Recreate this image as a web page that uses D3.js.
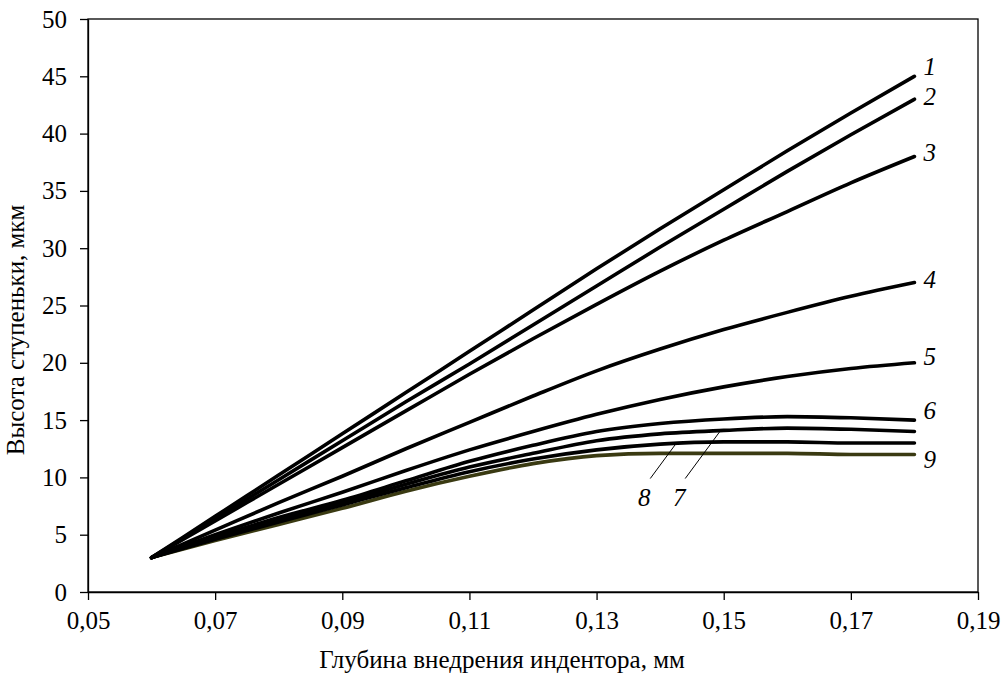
<!DOCTYPE html>
<html>
<head>
<meta charset="utf-8">
<script src="https://d3js.org/d3.v7.min.js"></script>
<style>
  body { margin: 0; background: #fff; }
  svg text { font-family: "Liberation Serif", "Times New Roman", Times, "DejaVu Serif", serif; fill: #000; }
</style>
</head>
<body>
<div id="chart"></div>
<script>
// depth of indentation, mm
var depth = [0.06, 0.07, 0.08, 0.09, 0.10, 0.11, 0.12, 0.13, 0.14, 0.15, 0.16, 0.17, 0.18];

// step height, um (curves 1..9)
var curve1 = [3, 6.6, 10.2, 13.8, 17.4, 21.0, 24.6, 28.2, 31.7, 35.1, 38.5, 41.8, 45];
var curve2 = [3, 6.4, 9.8, 13.2, 16.6, 19.9, 23.3, 26.7, 30.1, 33.4, 36.7, 39.9, 43];
var curve3 = [3, 6.2, 9.4, 12.6, 15.8, 19.0, 22.1, 25.1, 28.0, 30.7, 33.2, 35.7, 38];
var curve4 = [3, 5.4, 7.8, 10.1, 12.5, 14.8, 17.1, 19.3, 21.2, 22.9, 24.4, 25.8, 27];
var curve5 = [3, 5.0, 6.9, 8.7, 10.6, 12.4, 14.0, 15.5, 16.8, 17.9, 18.8, 19.5, 20];
var curve6 = [3, 4.8, 6.5, 8.0, 9.7, 11.4, 12.8, 14.0, 14.7, 15.1, 15.3, 15.2, 15.0];
var curve7 = [3, 4.7, 6.3, 7.8, 9.4, 10.9, 12.1, 13.2, 13.8, 14.1, 14.3, 14.2, 14.0];
var curve8 = [3, 4.6, 6.1, 7.6, 9.1, 10.5, 11.6, 12.4, 12.9, 13.1, 13.1, 13.0, 13.0];
var curve9 = [3, 4.5, 5.9, 7.3, 8.8, 10.1, 11.2, 11.9, 12.1, 12.1, 12.1, 12.0, 12.0];

var curveNames = ["1", "2", "3", "4", "5", "6", "7", "8", "9"];
var curveColors = ["#000", "#000", "#000", "#000", "#000", "#000", "#000", "#000", "#3a3a12"];

var xTicks = [0.05, 0.07, 0.09, 0.11, 0.13, 0.15, 0.17, 0.19];
var yTicks = [0, 5, 10, 15, 20, 25, 30, 35, 40, 45, 50];

var series = [curve1, curve2, curve3, curve4, curve5, curve6, curve7, curve8, curve9];

var serif = "'Liberation Serif', 'Times New Roman', Times, 'DejaVu Serif', serif";

// set the dimensions and margins of the graph
var margin = {top: 19, right: 25, bottom: 99, left: 88},
    width = 1003 - margin.left - margin.right,
    height = 691 - margin.top - margin.bottom;

var svg = d3.select("#chart")
  .append("svg")
    .attr("width", 1003)
    .attr("height", 691)
  .append("g")
    .attr("transform", "translate(" + margin.left + "," + margin.top + ")");

var x = d3.scaleLinear().domain([0.05, 0.19]).range([0, width]);
var y = d3.scaleLinear().domain([0, 50]).range([height, 0]);

// frame
svg.append("rect")
  .attr("x", 0).attr("y", 0)
  .attr("width", width).attr("height", height)
  .attr("fill", "none")
  .attr("stroke", "#000")
  .attr("stroke-width", 1.3);

// X axis
var xAxis = svg.append("g")
  .attr("transform", "translate(0," + height + ")")
  .call(d3.axisBottom(x).tickValues(xTicks).tickSize(8).tickSizeOuter(0)
    .tickFormat(function(d) { return d3.format(".2f")(d).replace(".", ","); }));
xAxis.attr("font-family", serif).attr("font-size", 25);
xAxis.selectAll("text").attr("dy", "1.05em");

// Y axis
var yAxis = svg.append("g")
  .call(d3.axisLeft(y).tickValues(yTicks).tickSize(8).tickSizeOuter(0));
yAxis.attr("font-family", serif).attr("font-size", 25);
yAxis.selectAll("text").attr("dx", "-0.4em");

svg.selectAll(".domain, .tick line").attr("stroke", "#000").attr("stroke-width", 1.3);

// curves
var line = d3.line()
  .x(function(d) { return x(d[0]); })
  .y(function(d) { return y(d[1]); })
  .curve(d3.curveMonotoneX);

series.slice().reverse().forEach(function(s, i) {
  var k = series.length - 1 - i;
  svg.append("path")
    .datum(depth.map(function(v, j) { return [v, s[j]]; }))
    .attr("fill", "none")
    .attr("stroke", curveColors[k])
    .attr("stroke-width", 3.6)
    .attr("stroke-linecap", "round")
    .attr("d", line);
});

// curve labels at the right end
var labelY = [45.9, 43.3, 38.4, 27.3, 20.6, 15.9, null, null, 11.6];
labelY.forEach(function(v, k) {
  if (v === null) return;
  svg.append("text")
    .attr("x", x(0.18) + 9)
    .attr("y", y(v))
    .attr("dy", "0.35em")
    .attr("font-family", serif)
    .attr("font-size", 25)
    .attr("font-style", "italic")
    .text(curveNames[k]);
});

// leader labels for curves 8 and 7
var leaders = [
  {k: 7, at: 0.1425, lx: 0.1375, ly: 7.5},
  {k: 6, at: 0.1495, lx: 0.1430, ly: 7.5}
];
leaders.forEach(function(o) {
  var s = series[o.k];
  var vy = d3.scaleLinear().domain(depth).range(s)(o.at);
  svg.append("line")
    .attr("x1", x(o.lx) + 6).attr("y1", y(o.ly + 2.4))
    .attr("x2", x(o.at)).attr("y2", y(vy))
    .attr("stroke", "#000").attr("stroke-width", 1);
  svg.append("text")
    .attr("x", x(o.lx))
    .attr("y", y(o.ly))
    .attr("font-family", serif)
    .attr("font-size", 25)
    .attr("font-style", "italic")
    .attr("text-anchor", "middle")
    .text(curveNames[o.k]);
});

// axis titles
svg.append("text")
  .attr("x", 414)
  .attr("y", height + 76)
  .attr("font-family", serif)
  .attr("font-size", 25)
  .attr("text-anchor", "middle")
  .text("Глубина внедрения индентора, мм");

svg.append("text")
  .attr("transform", "translate(" + (-64) + "," + 311 + ") rotate(-90)")
  .attr("font-family", serif)
  .attr("font-size", 25)
  .attr("text-anchor", "middle")
  .text("Высота ступеньки, мкм");
</script>
</body>
</html>
